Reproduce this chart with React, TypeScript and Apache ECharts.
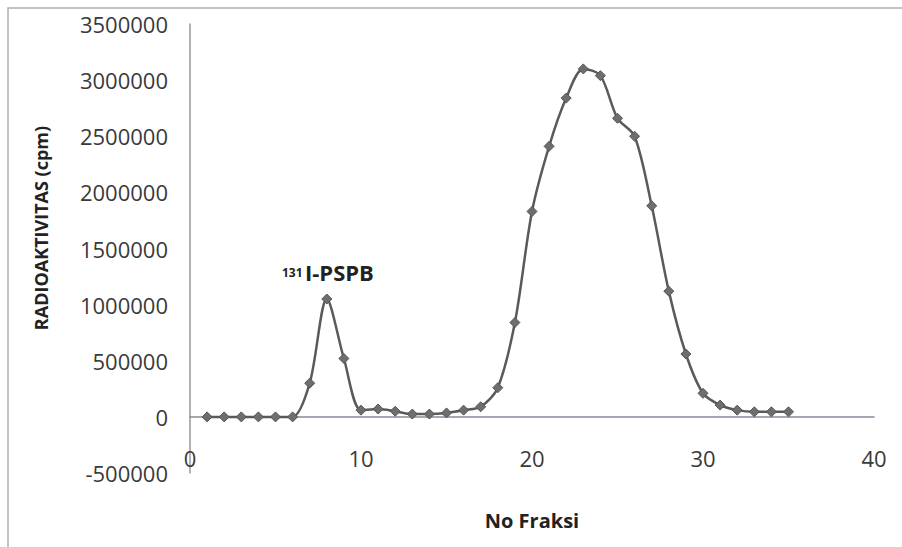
import React, { useEffect, useRef } from "react";
import * as echarts from "echarts";

const fractions = [1,2,3,4,5,6,7,8,9,10,11,12,13,14,15,16,17,18,19,20,21,22,23,24,25,26,27,28,29,30,31,32,33,34,35];
const activity = [0,0,0,0,0,0,300000,1050000,520000,60000,70000,50000,25000,25000,35000,60000,90000,260000,840000,1830000,2410000,2840000,3100000,3040000,2660000,2500000,1880000,1120000,560000,210000,105000,60000,45000,45000,45000];
const yTicks = { min: -500000, max: 3500000, interval: 500000 };
const xTicks = { min: 0, max: 40, interval: 10 };
const xTitle = "No Fraksi";
const yTitle = "RADIOAKTIVITAS (cpm)";
const peakLabelSup = "131";
const peakLabelMain = "I-PSPB";

const FONT = "'Open Sans', sans-serif";

export default function App() {
  const ref = useRef<HTMLDivElement>(null);
  useEffect(() => {
    if (!ref.current) return;
    const chart = echarts.init(ref.current, undefined, { renderer: "svg" });
    chart.setOption({
      animation: false,
      backgroundColor: "#ffffff",
      grid: { left: 190, right: 28, top: 24, bottom: 74, outerBoundsMode: "none", containLabel: false },
      xAxis: {
        type: "value",
        min: xTicks.min,
        max: xTicks.max,
        interval: xTicks.interval,
        axisLine: { onZero: true, lineStyle: { color: "#8a8a9a", width: 1.5 } },
        axisTick: { show: false },
        splitLine: { show: false },
        axisLabel: { margin: -26, color: "#3a3a3a", fontSize: 22, fontFamily: FONT, formatter: (v: number) => String(v) },
        name: xTitle,
        nameLocation: "middle",
        nameGap: 37,
        nameTextStyle: { color: "#222", fontSize: 20, fontWeight: "bold", fontFamily: FONT },
      },
      yAxis: {
        type: "value",
        min: yTicks.min,
        max: yTicks.max,
        interval: yTicks.interval,
        axisLine: { show: true, lineStyle: { color: "#999", width: 1.5 } },
        axisTick: { show: false },
        splitLine: { show: false },
        axisLabel: { margin: 22, color: "#3a3a3a", fontSize: 22, fontFamily: FONT, formatter: (v: number) => String(v) },
      },
      series: [
        {
          type: "line",
          data: fractions.map((f, i) => [f, activity[i]]),
          smooth: 0.3,
          symbol: "diamond",
          symbolSize: 10,
          lineStyle: { color: "#5a5a5a", width: 2.5 },
          itemStyle: { color: "#6e6e6e", borderColor: "#555", borderWidth: 1 },
        },
      ],
      graphic: [
        {
          type: "rect",
          shape: { x: 8, y: 8, width: 900, height: 545 },
          style: { fill: "none", stroke: "#b0b0b0", lineWidth: 1.5 },
          silent: true,
        },
        {
          type: "text",
          x: 41,
          y: 228,
          rotation: Math.PI / 2,
          style: { text: yTitle, fontSize: 18, fontWeight: "bold", fontFamily: FONT, fill: "#222", align: "center", verticalAlign: "middle" },
        },
        {
          type: "text",
          x: 282,
          y: 266,
          style: { text: peakLabelSup, fontSize: 12, fontWeight: "bold", fontFamily: FONT, fill: "#222" },
        },
        {
          type: "text",
          x: 305,
          y: 261,
          style: { text: peakLabelMain, fontSize: 22, fontWeight: "bold", fontFamily: FONT, fill: "#222" },
        },
      ],
    });
    return () => chart.dispose();
  }, []);
  return <div ref={ref} style={{ position: "absolute", left: 0, top: 0, width: 902, height: 547 }} />;
}
